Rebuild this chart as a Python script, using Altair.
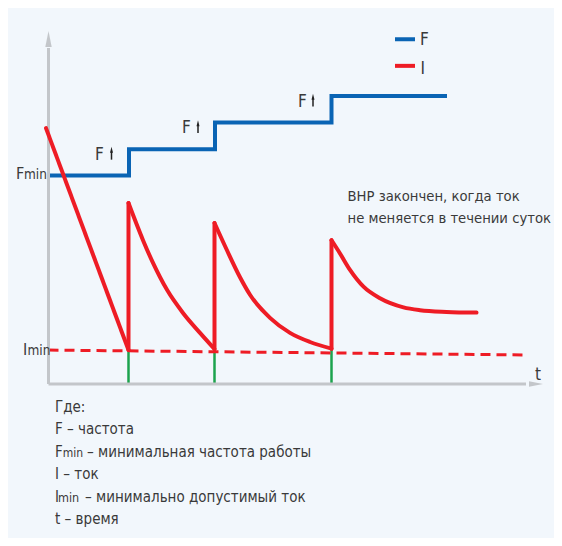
import altair as alt
import pandas as pd

# ---------------- data (time units t, value units v) ----------------
F_t = [0.3, 16.1, 16.1, 33.3, 33.3, 56.6, 56.6, 79.7]
F_v = [59.6, 59.6, 67.1, 67.1, 74.7, 74.7, 82.3, 82.3]

# I curve split in pieces: 0 = first fall, 1/3/5 = jumps, 2/4/6 = decays
I_seg = [0, 0,
         1, 1,
         2, 2, 2, 2, 2, 2, 2,
         3, 3,
         4, 4, 4, 4, 4, 4, 4, 4,
         5, 5,
         6, 6, 6, 6, 6, 6, 6, 6, 6]
I_t = [-0.5, 16.0,
       16.0, 16.0,
       16.0, 18.9, 20.9, 23.7, 26.9, 30.3, 33.2,
       33.2, 33.2,
       33.2, 35.6, 38.3, 40.3, 44.3, 48.3, 52.3, 56.6,
       56.6, 56.6,
       56.6, 58.3, 60.3, 63.0, 66.3, 71.0, 74.3, 79.6, 85.6]
I_v = [73.1, 9.7,
       9.7, 51.7,
       51.7, 41.1, 34.6, 26.9, 20.3, 14.6, 10.0,
       10.0, 46.0,
       46.0, 38.5, 30.5, 25.5, 18.9, 14.6, 12.0, 10.1,
       10.1, 41.1,
       41.1, 37.3, 32.6, 27.8, 24.5, 21.9, 21.1, 20.6, 20.4]

IMIN_t = [0.0, 95.3]
IMIN_v = [9.7, 8.3]

GREEN_t = [16.0, 33.2, 56.6]
GREEN_top = [9.7, 10.0, 10.1]

FUP_t = [9.3, 26.7, 49.9]
FUP_arrow_t = [12.6, 29.9, 52.9]
FUP_v = [64.0, 71.6, 79.2]

LEGEND_names = ["F", "I"]
LEGEND_v = [98.5, 90.9]
LEGEND_colors = ["#0a64b4", "#ee1c25"]

NOTE_lines = ["ВНР закончен, когда ток", "не меняется в течении суток"]
NOTE_v = [52.4, 46.1]

KEY_lines = ["Где:", "F – частота", "", "I – ток", "", "t – время"]
KEY_v = [-7.9, -14.4, -20.8, -27.2, -33.6, -40.0]

# ---------------- styling ----------------
BG = "#f2f7fc"
TXT = "#3a3a3a"
AX = "#c3c6ca"
FONT = "Liberation Sans Narrow, DejaVu Sans Condensed, Roboto, sans-serif"

xs = alt.Scale(domain=[-8.1, 101.1], nice=False, zero=False)
ys = alt.Scale(domain=[-44.0, 107.43], nice=False, zero=False)


def X(f="t"):
    return alt.X(f"{f}:Q", scale=xs, axis=None)


def Y(f="v"):
    return alt.Y(f"{f}:Q", scale=ys, axis=None)


# axes
y_axis = alt.Chart(pd.DataFrame({"t": [0], "v": [0], "v2": [96.0]})).mark_rule(
    color=AX, strokeWidth=3).encode(x=X(), y=Y(), y2="v2:Q")
x_axis = alt.Chart(pd.DataFrame({"t": [0], "t2": [95.5], "v": [0]})).mark_rule(
    color=AX, strokeWidth=3).encode(x=X(), x2="t2:Q", y=Y())
y_arrow = alt.Chart(pd.DataFrame({"t": [0], "v": [98.6]})).mark_point(
    shape="M-0.4,1 L0,-1 L0.4,1 Z", filled=True, color=AX, opacity=1, size=256
).encode(x=X(), y=Y())
x_arrow = alt.Chart(pd.DataFrame({"t": [97.5], "v": [0]})).mark_point(
    shape="M-1,-0.4 L1,0 L-1,0.4 Z", filled=True, color=AX, opacity=1, size=196
).encode(x=X(), y=Y())

# green markers
green = alt.Chart(pd.DataFrame({"t": GREEN_t, "v": [0] * 3, "v2": GREEN_top})).mark_rule(
    color="#1ca34e", strokeWidth=2.5).encode(x=X(), y=Y(), y2="v2:Q")

# Imin dashed
imin = alt.Chart(pd.DataFrame({"t": IMIN_t, "v": IMIN_v})).mark_line(
    color="#ee1c25", strokeWidth=3, strokeDash=[10, 6]).encode(x=X(), y=Y())

# F line
f_df = pd.DataFrame({"t": F_t, "v": F_v, "i": range(len(F_t))})
f_line = alt.Chart(f_df).mark_line(color="#0a64b4", strokeWidth=4, strokeJoin="miter").encode(
    x=X(), y=Y(), order="i:Q")

# I line
i_df = pd.DataFrame({"t": I_t, "v": I_v, "seg": I_seg, "i": range(len(I_t))})
i_line = alt.Chart(i_df).mark_line(color="#ee1c25", strokeWidth=4, strokeCap="round",
                                   strokeJoin="round", interpolate="monotone").encode(
    x=X(), y=Y(), detail="seg:N", order="i:Q")

# legend
leg_df = pd.DataFrame({"t": [69.3, 69.3], "t2": [73.3, 73.3], "v": LEGEND_v,
                       "name": LEGEND_names, "lt": [74.3, 74.4], "lv": [96.8, 88.6]})
leg_lines = alt.Chart(leg_df).mark_rule(strokeWidth=4).encode(
    x=X(), x2="t2:Q", y=Y(),
    color=alt.Color("name:N", scale=alt.Scale(domain=LEGEND_names, range=LEGEND_colors), legend=None))
leg_text = alt.Chart(leg_df).mark_text(align="left", baseline="alphabetic", font=FONT,
                                       fontSize=17, color=TXT).encode(
    x=X("lt"), y=Y("lv"), text="name:N")

# F-up labels
fup_df = pd.DataFrame({"t": FUP_t, "v": FUP_v, "at": FUP_arrow_t,
                       "a1": [v + 0.1 for v in FUP_v], "a2": [v + 2.4 for v in FUP_v],
                       "ah": [v + 2.9 for v in FUP_v], "txt": ["F"] * 3})
fup_text = alt.Chart(fup_df).mark_text(align="left", baseline="alphabetic", font=FONT,
                                       fontSize=17, color=TXT).encode(
    x=X(), y=Y(), text="txt:N")
fup_stem = alt.Chart(fup_df).mark_rule(color="#222222", strokeWidth=1.5).encode(
    x=X("at"), y=Y("a1"), y2="a2:Q")
fup_head = alt.Chart(fup_df).mark_point(shape="M-0.5,1 L0,-1 L0.5,1 Z", filled=True,
                                        color="#222222", opacity=1, size=36).encode(
    x=X("at"), y=Y("ah"))

# Fmin / Imin labels
lab_df = pd.DataFrame({
    "t": [-6.5, -4.9, -5.1, -4.2],
    "v": [58.5, 58.5, 8.3, 8.3],
    "txt": ["F", "min", "I", "min"],
    "fs": [16, 13.5, 16, 13.5],
})
lab_text = alt.Chart(lab_df).mark_text(align="left", baseline="alphabetic", font=FONT,
                                       color=TXT).encode(
    x=X(), y=Y(), text="txt:N", size=alt.Size("fs:Q", scale=None, legend=None))

t_text = alt.Chart(pd.DataFrame({"t": [97.9], "v": [1.1], "txt": ["t"]})).mark_text(
    align="center", baseline="alphabetic", font=FONT, fontSize=17, color=TXT).encode(
    x=X(), y=Y(), text="txt:N")

# note
note = alt.Chart(pd.DataFrame({"t": [59.8, 59.8], "v": NOTE_v, "txt": NOTE_lines})).mark_text(
    align="left", baseline="alphabetic", font=FONT, fontSize=14.7, color=TXT).encode(
    x=X(), y=Y(), text="txt:N")

# key block
key_df = pd.DataFrame({"t": [1.3] * 6, "v": KEY_v, "txt": KEY_lines})
key = alt.Chart(key_df).mark_text(align="left", baseline="alphabetic", font=FONT,
                                  fontSize=15, color=TXT).encode(
    x=X(), y=Y(), text="txt:N")
key2_df = pd.DataFrame({
    "t": [1.3, 2.85, 7.7, 1.3, 1.9, 7.3],
    "v": [KEY_v[2]] * 3 + [KEY_v[4]] * 3,
    "txt": ["F", "min", "– минимальная частота работы", "I", "min", "– минимально допустимый ток"],
    "fs": [15, 12, 15, 15, 12.5, 15],
})
key2 = alt.Chart(key2_df).mark_text(align="left", baseline="alphabetic", font=FONT,
                                    color=TXT).encode(
    x=X(), y=Y(), text="txt:N", size=alt.Size("fs:Q", scale=None, legend=None))

chart = alt.layer(
    green, imin, y_axis, x_axis, y_arrow, x_arrow, f_line, i_line,
    leg_lines, leg_text, fup_text, fup_stem, fup_head, lab_text, t_text, note, key, key2
).properties(
    width=546, height=530,
    autosize=alt.AutoSizeParams(type="none"),
    padding=0,
    background=BG,
).configure_view(stroke=None)

chart.save("out.html", embed_options={"renderer": "svg", "actions": False})
